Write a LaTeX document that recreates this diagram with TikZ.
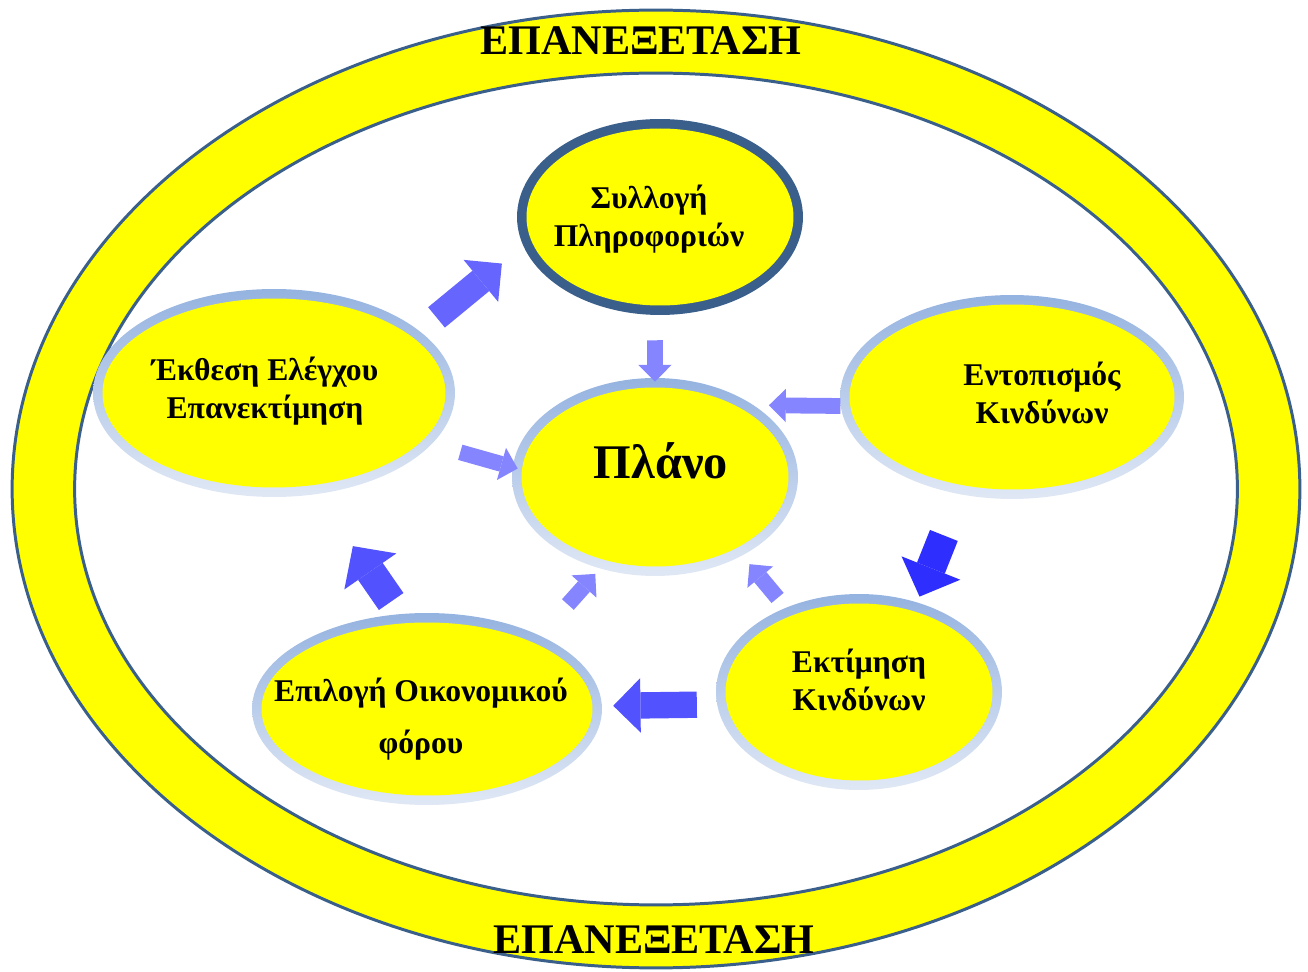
\documentclass[tikz,border=0pt]{standalone}
\usepackage{fontspec}
\setmainfont{Liberation Serif}
\usepackage{tikz}
\usetikzlibrary{shapes.geometric, arrows.meta, calc}

\definecolor{ringyellow}{HTML}{FFFF00}
\definecolor{ringdark}{HTML}{3A5F8B}
\definecolor{ringtop}{HTML}{95B3E0}
\definecolor{ringbot}{HTML}{E0E8F5}
\definecolor{arrowmid}{HTML}{6666FF}
\definecolor{arrowdeep}{HTML}{5252FF}
\definecolor{arrowdark}{HTML}{2E2EFF}
\definecolor{arrowpale}{HTML}{8585FF}

\tikzset{
	stagebase/.style={ellipse, inner sep=0pt,
		path picture={\fill[ringyellow] let \p1=(path picture bounding box.north east), \p2=(path picture bounding box.center) in (\p2) ellipse [x radius={\x1-\x2-5.4pt}, y radius={\y1-\y2-5.4pt}];}},
	stage/.style={stagebase, top color=ringtop, bottom color=ringbot},
	keystage/.style={stagebase, fill=ringdark},
	stagetext/.style={align=center, inner sep=0pt, font=\fontsize{18}{21.5}\selectfont\bfseries},
	ringlabel/.style={font=\fontsize{24}{28}\selectfont\bfseries, inner sep=0pt},
	bigarrow/.style={line width=15pt, -{Triangle[width=31pt,length=15.5pt,line width=0pt]}},
	widearrow/.style={line width=17pt, -{Triangle[width=36pt,length=17.5pt,line width=0pt]}},
	smallarrow/.style={draw=arrowpale, line width=9pt, -{Triangle[width=19pt,length=9.6pt,line width=0pt]}},
}

\begin{document}
\begin{tikzpicture}[x=0.02cm, y=-0.02cm]
		\useasboundingbox (0,0) rectangle (1308,972);
		% review ring
		\fill[ringyellow, even odd rule] (656,489) ellipse [x radius=12.88cm, y radius=9.58cm]
			(656,489) ellipse [x radius=11.63cm, y radius=8.32cm];
		\draw[ringdark, line width=1.7pt] (656,489) ellipse [x radius=12.88cm, y radius=9.58cm];
		\draw[ringdark, line width=1.7pt] (656,489) ellipse [x radius=11.63cm, y radius=8.32cm];
		\node (revtop) at (641,55) [ringlabel, anchor=base] {ΕΠΑΝΕΞΕΤΑΣΗ};
		\node (revbot) at (654,953) [ringlabel, anchor=base] {ΕΠΑΝΕΞΕΤΑΣΗ};

		% stages
		\node (syll) at (660,217) [keystage, minimum width=5.72cm, minimum height=3.92cm,
			label={[stagetext, shift={(-11,2)}]center:Συλλογή\\Πληροφοριών}] {};
		\node (plan) at (655,477) [stage, minimum width=5.72cm, minimum height=3.96cm,
			label={[stagetext, shift={(6,-16)}, font=\fontsize{27.5}{30}\selectfont\bfseries]center:Πλάνο}] {};
		\node (expo) at (274,393) [stage, minimum width=7.24cm, minimum height=4.16cm,
			label={[stagetext, shift={(-9,-2)}]center:Έκθεση Ελέγχου\\Επανεκτίμηση}] {};
		\node (ento) at (1012,397) [stage, minimum width=6.88cm, minimum height=4.08cm,
			label={[stagetext, shift={(30,-4)}]center:Εντοπισμός\\Κινδύνων}] {};
		\node (ekti) at (859,692) [stage, minimum width=5.72cm, minimum height=3.92cm,
			label={[stagetext, shift={(0,-12)}]center:Εκτίμηση\\Κινδύνων}] {};
		\node (epil) at (427,709) [stage, minimum width=7cm, minimum height=3.84cm,
			label={[stagetext, shift={(-6,10)}]center:Επιλογή Οικονομικού\\[8pt]φόρου}] {};

		% cycle
		\draw[bigarrow, draw=arrowmid, shorten <=0.43cm, shorten >=0.55cm] (expo.23) -- (syll.192);
		\draw[widearrow, draw=arrowdark, shorten <=0.88cm, shorten >=0.12cm] (ento.242) -- (ekti.57);
		\draw[bigarrow, draw=arrowdeep, shorten <=0.4cm, shorten >=0.22cm] (ekti.185) -- (epil.1);
		\draw[widearrow, draw=arrowdeep, shorten <=0.3cm, shorten >=1.26cm] (epil.106) -- (expo.293);

		% into the plan
		\draw[smallarrow, shorten <=0.5cm, shorten >=-0.08cm] (syll.267) -- (plan.north);
		\draw[smallarrow, shorten >=0.3cm] (ento.183) -- (plan.36);
		\draw[smallarrow, shorten <=0.83cm, shorten >=0.14cm] (epil.33) -- (plan.239);
		\draw[smallarrow, shorten <=0.25cm, shorten >=0.22cm] (ekti.131) -- (plan.318);
		\draw[smallarrow, shorten <=0.59cm, shorten >=-0.11cm] (expo.342) -- (plan.176);
\end{tikzpicture}
\end{document}
